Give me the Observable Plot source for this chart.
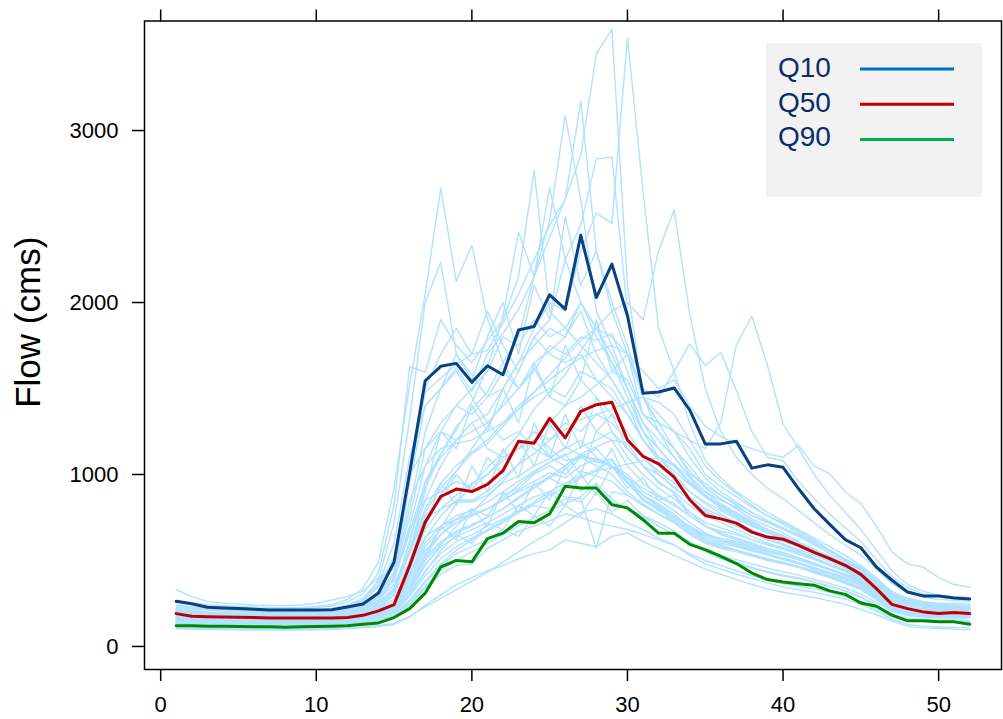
<!DOCTYPE html>
<html>
<head>
<meta charset="utf-8">
<script src="https://cdn.jsdelivr.net/npm/d3@7"></script>
<script src="https://cdn.jsdelivr.net/npm/@observablehq/plot@0.6"></script>
<style>
  html, body { margin: 0; padding: 0; background: #ffffff; }
  #chart { width: 1003px; height: 719px; position: relative; }
</style>
</head>
<body>
<div id="chart"></div>
<script>
// ---- data ----
const weeks = d3.range(1, 53);
const xTicks = [0, 10, 20, 30, 40, 50];
const yTicks = [0, 1000, 2000, 3000];

const q10 = [263,248,228,224,220,216,212,212,212,212,214,230,247,
  311,491,1010,1545,1629,1646,1536,1632,1580,1840,1861,2045,1961,
  2391,2029,2223,1923,1472,1480,1503,1375,1178,1178,1193,1037,1056,
  1042,917,801,710,621,574,462,385,317,294,294,282,276];
const q50 = [191,176,173,171,170,168,166,166,166,166,166,168,181,
  207,243,470,723,872,915,901,942,1023,1193,1182,1327,1213,
  1367,1406,1420,1201,1106,1062,984,853,762,742,717,665,636,
  624,588,547,511,472,419,336,245,220,201,191,197,191];
const q90 = [121,120,118,117,116,115,114,112,114,116,118,120,129,
  137,168,220,310,462,500,492,627,659,727,719,771,932,
  922,922,824,806,737,659,659,594,563,524,482,427,389,
  375,365,356,323,303,253,234,182,149,149,143,143,129];

const years = [
 [218,208,198,192,188,185,182,180,182,186,194,212,246, 320,420,950,1400,1500,1620,1480,1700,1820,1960,2150,2380,2600, 2855,3446,3590,2100,1450,1300,1150,1020,920,860,800,740,700, 660,610,560,520,480,430,350,265,218,210,200,195,188],
 [186,177,171,168,167,168,169,170,170,171,175,184,202, 240,315,560,850,1050,1200,1300,1350,1500,1650,1850,2000,1950, 2300,2520,2460,3540,2645,1850,1600,1300,1080,980,900,840,780, 730,680,630,580,530,470,400,315,275,255,245,240,235],
 [236,226,215,209,204,200,196,193,195,199,208,229,263, 350,470,980,1480,1560,1640,1700,1720,1880,2050,2250,2450,2600, 3170,2300,2000,1750,1450,1300,1250,1150,1000,930,870,810,760, 720,670,620,560,500,440,375,305,268,252,242,237,232],
 [173,167,162,160,159,158,157,156,157,159,163,172,189, 222,300,620,920,1120,1280,1380,1480,1650,1800,2150,2480,3087, 2600,1950,1750,1500,1250,1100,1000,900,830,770,720,670,630, 595,555,515,475,435,395,320,240,210,200,192,186,182],
 [256,246,237,232,228,224,221,218,220,225,235,259,306, 430,820,1628,1595,1900,1750,1650,1780,1900,2150,2767,1950,1850, 2000,1800,1650,1500,1300,1150,1050,950,870,810,760,710,665, 625,585,545,500,455,410,345,285,252,236,226,221,216],
 [266,253,243,237,233,230,227,224,227,232,243,273,336, 490,920,1520,2050,2665,2122,2333,1905,1650,1500,1620,1450,1400, 1550,1450,1350,1250,1100,1000,920,850,790,740,700,660,620, 590,555,515,475,435,395,340,285,258,242,232,227,222],
 [206,199,193,189,185,182,180,178,180,184,192,213,253, 390,720,1320,2000,2234,1700,1580,1450,1600,1500,1650,1720,1800, 1950,1700,1550,1400,1200,1080,980,900,840,790,740,700,660, 620,580,540,500,455,410,345,275,243,228,218,212,207],
 [193,185,179,176,174,173,172,172,173,175,180,193,218, 272,385,660,960,1120,1260,1420,1620,1920,2409,2150,2667,2250, 2000,1850,1650,1450,1250,1150,1050,960,880,820,770,720,675, 635,595,555,510,465,420,355,285,250,234,224,218,213],
 [163,157,152,149,147,145,143,141,143,146,152,162,179, 211,240,450,700,880,1020,1150,1280,1420,1600,1800,1900,2250, 2450,2835,2845,1950,1450,1250,1100,990,900,830,780,730,680, 640,600,560,515,470,425,360,295,262,247,237,232,227],
 [151,146,142,139,137,135,132,130,132,134,140,150,167, 193,240,380,540,690,830,940,1040,1130,1230,1380,1480,1580, 1720,1850,1950,2000,1900,2300,2539,1934,1500,1250,1100,1000,920, 860,790,720,650,590,530,450,365,312,287,274,267,262],
 [141,137,133,131,129,127,125,123,125,127,131,139,151, 171,211,320,470,590,700,780,870,960,1060,1200,1300,1400, 1450,1520,1600,1550,1350,1300,1250,1200,1150,1300,1754,1920,1634, 1295,1150,1000,880,780,680,560,440,360,320,300,290,285],
 [177,172,168,166,165,165,166,168,168,168,170,180,199, 242,320,540,780,920,1020,1120,1180,1280,1380,1480,1580,1680, 1780,1850,1800,1700,1500,1450,1600,1760,1634,1711,1488,1250,1100, 1080,960,860,770,690,610,505,405,342,306,291,281,276],
 [201,194,187,183,180,177,174,172,174,177,184,199,223, 270,360,560,800,950,1050,1130,1200,1300,1400,1480,1550,1620, 1680,1720,1750,1700,1600,1500,1550,1400,1280,1220,1180,1150,1120, 1100,1169,1050,1004,900,830,700,550,480,461,400,360,345],
 [221,211,201,196,193,190,187,185,187,191,199,217,246, 300,420,750,1150,1300,1400,1350,1450,1500,1650,1750,1850,1800, 2000,1850,1700,1500,1300,1200,1100,990,900,850,810,760,720, 690,650,610,560,510,460,390,320,280,262,250,242,238],
 [182,176,171,169,169,170,171,172,172,171,171,181,202, 246,330,600,950,1100,1200,1250,1300,1400,1500,1600,1750,1700, 1800,1780,1820,1600,1350,1250,1150,1050,930,880,830,780,730, 690,640,590,540,495,445,375,305,268,250,238,232,227],
 [169,163,158,156,155,155,156,157,157,156,158,167,185, 215,240,420,600,700,760,790,840,900,960,1020,1070,1110, 1160,1200,1250,1100,1000,920,860,780,720,690,660,620,590, 565,535,505,470,435,395,330,238,212,205,198,192,186],
 [211,201,193,189,186,183,181,179,180,183,191,207,233, 290,400,680,850,900,960,920,1000,1100,1150,1250,1150,1080, 1100,1050,1000,900,830,770,730,690,650,630,610,580,555, 530,505,475,445,410,375,320,240,214,205,196,190,185],
 [159,153,148,145,143,141,139,137,138,141,147,157,173, 200,230,400,560,650,720,760,800,860,940,1010,1070,1120, 1000,1250,1200,1050,950,880,830,760,700,660,630,600,570, 545,515,485,450,415,380,315,232,210,200,192,189,186],
 [146,141,137,135,133,131,129,127,128,131,136,145,161, 186,230,360,500,600,660,700,750,800,870,930,990,1050, 1120,1160,1200,1180,1050,960,890,780,700,660,630,600,570, 545,515,485,450,415,375,310,245,215,200,192,188,184],
 [191,183,177,174,172,171,170,170,171,173,177,189,211, 255,340,560,740,800,840,840,880,950,990,1050,1090,1160, 1110,1090,1050,950,860,800,750,700,650,620,600,575,550, 530,505,480,450,418,385,320,236,212,204,196,192,188],
 [171,165,160,157,155,153,151,149,150,153,159,169,187, 220,242,460,640,700,740,760,800,850,910,960,1010,980, 1050,1090,1050,980,880,810,750,690,640,610,590,565,540, 515,490,460,430,400,365,300,235,210,197,190,188,186],
 [151,147,143,141,139,137,135,133,134,137,142,151,166, 191,235,360,520,610,670,710,750,800,860,920,980,1030, 1110,1070,1090,960,880,830,770,690,630,600,580,555,530, 505,480,450,420,390,355,290,222,197,186,181,183,181],
 [136,132,129,127,125,123,121,119,121,123,127,135,149, 171,205,310,440,540,610,650,700,740,790,840,900,950, 990,1030,1080,960,850,790,740,670,610,580,560,535,510, 485,460,430,400,365,330,270,210,186,176,171,173,171],
 [241,231,221,216,213,211,208,206,208,212,221,241,281, 380,480,1000,1150,1250,1200,1300,1150,1100,1150,1200,1100,1150, 1200,1100,1050,950,880,820,760,700,650,620,600,575,550, 530,510,480,450,420,390,320,242,212,204,196,194,190],
 [161,156,151,149,147,145,143,141,142,145,150,159,175, 206,238,400,580,680,740,770,800,850,900,940,980,930, 1020,990,960,880,820,770,720,660,610,580,560,535,510, 490,465,440,410,380,345,285,222,198,188,183,185,183],
 [126,123,120,118,117,116,115,113,115,117,120,127,139, 156,186,270,380,480,560,620,670,720,780,830,880,930, 980,1020,1040,1060,1080,1100,1060,980,880,800,750,700,660, 630,600,565,525,485,445,375,300,258,236,225,219,214],
 [131,127,124,122,120,119,117,115,117,119,123,131,144, 163,195,290,410,510,580,630,680,730,780,820,800,860, 840,940,860,790,750,700,650,600,560,530,505,480,455, 435,415,390,365,340,305,255,205,180,170,165,167,165],
 [115,113,111,110,109,108,107,106,107,109,112,118,128, 142,165,240,340,420,470,480,570,620,670,700,730,770, 750,720,700,680,650,620,590,540,500,470,440,410,385, 365,350,335,315,290,260,215,170,150,145,142,144,140],
 [102,100,99,98,97,96,96,95,96,97,99,102,108, 115,128,170,240,300,360,400,440,470,510,540,560,620, 600,580,640,660,610,570,530,490,450,420,390,360,335, 315,300,285,265,245,215,185,148,118,108,104,101,97],
 [141,137,133,131,129,127,125,123,125,127,132,141,156, 179,215,330,480,580,640,680,720,770,820,870,900,870, 860,570,900,880,820,770,720,650,600,570,550,525,500, 480,460,430,400,370,335,280,220,195,185,180,180,178],
 [231,223,215,211,207,204,201,199,201,205,214,233,271, 360,600,1100,1400,1500,1600,1450,1300,1200,1250,1150,1100,1050, 1120,1080,1040,980,920,870,820,760,700,670,650,620,595, 570,545,510,475,440,400,335,244,216,210,205,206,204],
 [330,290,262,252,246,241,239,237,241,251,270,290,322, 400,450,850,1050,1150,1180,1200,1250,1300,1380,1450,1500,1450, 1600,1550,1500,1350,1200,1100,1020,940,870,820,770,720,680, 645,605,565,520,475,430,365,305,272,257,250,252,247],
 [108,106,104,103,102,101,100,99,100,102,104,108,115, 122,135,175,230,280,330,380,430,490,550,610,660,720, 780,800,770,720,680,630,590,530,480,450,420,395,370, 345,330,315,295,275,245,205,158,128,118,113,110,108],
 [120,118,115,113,112,111,110,109,110,112,115,121,132, 148,175,250,350,440,500,550,600,650,700,750,790,830, 870,950,840,800,760,720,670,610,560,520,490,460,435, 415,400,375,350,320,285,235,182,158,150,146,148,144],
 [201,193,186,182,179,176,174,172,174,177,185,201,229, 285,400,700,1050,1250,1400,1500,1600,1800,1750,1900,1800,1850, 1750,1650,1550,1400,1250,1150,1050,950,870,810,760,710,665, 625,585,545,505,465,420,355,292,262,247,237,232,227],
 [156,151,147,144,142,140,138,137,138,140,146,155,171, 199,235,420,630,760,850,850,900,980,1060,1120,1200,1260, 1320,1350,1380,1420,1450,1420,1350,1200,1050,960,890,820,760, 710,660,610,560,510,450,380,308,266,246,236,231,226],
 [190,184,178,175,172,170,168,166,168,171,178,192,215, 262,330,560,900,1250,1150,1400,1250,1500,1300,1650,1450,1750, 1550,1900,1600,1700,1350,1250,1150,1000,950,880,820,760,720, 680,640,600,555,505,455,380,300,262,245,235,228,222],
 [165,160,155,152,150,148,146,144,146,149,155,165,182, 212,260,440,700,950,820,1050,900,1150,980,1300,1100,1350, 1150,1450,1250,1150,1050,950,900,820,760,720,680,640,600, 575,545,515,480,445,405,340,250,222,208,200,196,192],
 [145,141,137,134,132,130,128,126,128,130,135,144,158, 182,220,340,500,700,620,800,700,900,780,950,850,1050, 900,1000,1150,950,850,800,720,680,620,590,560,530,505, 485,460,435,405,375,340,280,215,190,180,175,176,174],
 [210,203,196,192,189,186,184,182,184,188,196,212,240, 300,430,800,1250,1500,1700,1550,1800,2000,1700,2100,1900,2500, 2100,2300,1950,1700,1450,1350,1250,1100,980,900,840,780,730, 690,645,600,555,505,455,385,310,270,252,242,236,230],
 [135,131,128,126,124,122,120,118,120,122,126,134,147, 168,200,300,430,560,650,600,720,680,820,760,900,820, 1000,880,1050,920,980,850,880,760,700,650,620,590,560, 535,505,475,445,410,370,305,230,200,188,182,182,180],
 [178,172,166,163,161,159,157,155,157,160,166,177,196, 232,300,500,760,850,1000,900,1100,1000,1200,1050,1300,1150, 1400,1250,1350,1150,1050,1000,930,850,780,740,700,660,620, 595,565,530,495,460,420,350,262,230,215,206,201,197],
 [125,122,119,117,116,115,114,113,114,116,119,125,136, 152,180,260,370,470,540,580,620,680,640,760,700,820, 760,900,780,850,760,700,650,600,550,510,480,455,430, 410,395,375,350,325,290,240,188,165,157,152,154,150],
 [228,219,211,206,202,199,196,194,196,200,208,226,262, 350,520,1000,1500,1700,1850,1700,1950,1750,1600,1800,1700,1650, 1700,1550,1450,1350,1200,1100,1050,950,880,820,770,720,680, 640,600,560,520,475,430,365,295,260,244,234,228,224],
 [172,166,161,158,156,154,152,150,152,155,160,170,188, 222,275,460,680,800,880,950,1000,1080,1150,1250,1200,1300, 1250,1350,1300,1200,1100,1020,950,870,800,760,720,680,640, 610,580,545,505,470,430,360,270,236,220,210,205,200],
 [150,146,142,140,138,136,134,132,134,136,141,150,164, 188,230,360,530,650,740,800,760,880,920,1000,1050,1000, 1100,1150,1050,1000,900,850,790,720,660,620,590,560,535, 510,485,455,425,395,360,295,225,198,186,180,181,179]
];

const legendLabels = ["Q10", "Q50", "Q90"];
const legendColors = ["#0070c0", "#c00000", "#00b050"];
const lineColors = ["#0a4180", "#c00000", "#008a00"];

// ---- tables ----
const spaghetti = years.flatMap((vals, i) => vals.map((v, j) => ({series: i, week: weeks[j], flow: v})));
const quantiles = [q10, q50, q90];
const quantTable = quantiles.flatMap((vals, i) => vals.map((v, j) => ({q: legendLabels[i], week: weeks[j], flow: v})));

const font = "'Liberation Sans', Arial, Helvetica, sans-serif";

const chart = Plot.plot({
  width: 1003,
  height: 719,
  marginTop: 20.5,
  marginBottom: 50,
  marginLeft: 144,
  marginRight: 2,
  style: {fontFamily: font, background: "#ffffff", color: "#000000", overflow: "visible"},
  x: {domain: [-1.04, 54.04]},
  y: {domain: [-134, 3637]},
  marks: [
    Plot.line(spaghetti, {x: "week", y: "flow", z: "series", stroke: "#b0e2ff", strokeWidth: 1.4}),
    Plot.line(quantTable.filter(d => d.q === "Q90"), {x: "week", y: "flow", stroke: lineColors[2], strokeWidth: 3}),
    Plot.line(quantTable.filter(d => d.q === "Q50"), {x: "week", y: "flow", stroke: lineColors[1], strokeWidth: 3}),
    Plot.line(quantTable.filter(d => d.q === "Q10"), {x: "week", y: "flow", stroke: lineColors[0], strokeWidth: 3}),
    Plot.frame({stroke: "#000000", strokeWidth: 1.5}),
    Plot.axisX({ticks: xTicks, tickSize: 12, tickPadding: 15, fontSize: 22, label: null, tickFormat: "d", strokeWidth: 1.5}),
    Plot.axisX({anchor: "top", ticks: xTicks, tickSize: 12, tickFormat: () => "", label: null, strokeWidth: 1.5}),
    Plot.axisY({ticks: yTicks, tickSize: 12, tickPadding: 14, fontSize: 22, label: null, tickFormat: "d", strokeWidth: 1.5}),
    Plot.text(["Flow (cms)"], {frameAnchor: "left", textAnchor: "middle", dx: -116, dy: -23, rotate: -90, fontSize: 35, fill: "#000000"})
  ]
});

// ---- legend ----
const svg = d3.select(chart);
const lg = svg.append("g").attr("font-family", font).attr("text-anchor", "start");
lg.append("rect").attr("x", 766).attr("y", 43).attr("width", 216).attr("height", 154).attr("fill", "#f2f2f2");
legendLabels.forEach((lab, i) => {
  lg.append("text").attr("x", 778).attr("y", 77 + i * 34.5).attr("font-size", 28)
    .attr("text-anchor", "start").attr("fill", "#0b2b6b").text(lab);
  lg.append("line").attr("x1", 860).attr("x2", 954)
    .attr("y1", 69 + i * 35.3).attr("y2", 69 + i * 35.3)
    .attr("stroke", legendColors[i]).attr("stroke-width", 3);
});

document.getElementById("chart").appendChild(chart);
</script>
</body>
</html>
